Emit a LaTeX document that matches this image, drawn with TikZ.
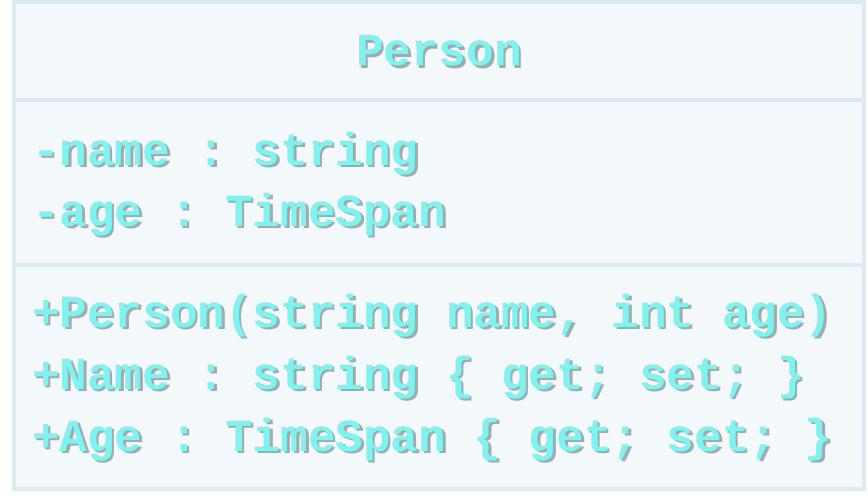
\documentclass[tikz,border=0pt]{standalone}
\usepackage{fontspec}
\setmonofont{Liberation Mono}
\usetikzlibrary{positioning}
\definecolor{umlcyan}{HTML}{80F2EF}
\definecolor{umlshade}{HTML}{A2AAAC}
\definecolor{umlborder}{HTML}{DAEBF1}
\definecolor{umlfill}{HTML}{F3F8FB}
% text with a soft drop shadow
\newcommand{\shadowed}[1]{%
  \rlap{\kern2.5pt\raisebox{-2.5pt}{\textcolor{umlshade}{#1}}}#1}
\tikzset{
  classbox/.style={
    draw=umlborder,
    fill=umlfill,
    line width=4pt
  },
  divider/.style={
    draw=umlborder,
    line width=4pt
  },
  umltext/.style={
    anchor=base west,
    inner sep=0pt,
    text=umlcyan,
    font=\ttfamily\bfseries\fontsize{46}{55}\selectfont
  }
}
\begin{document}
\begin{tikzpicture}[x=1pt,y=-1pt]
    \useasboundingbox (0,0) rectangle (868,503);
    \coordinate (nw) at (14,2);
    \coordinate (se) at (864,489);
    \draw[classbox] (nw) rectangle (se);
    % compartments
    \coordinate (d1w) at (14,100);
    \coordinate (d1e) at (864,100);
    \coordinate (d2w) at (14,265);
    \coordinate (d2e) at (864,265);
    \draw[divider] (d1w) -- (d1e);
    \draw[divider] (d2w) -- (d2e);
    % class name
    \node[umltext, anchor=base] (title) at (439,66) {\shadowed{Person}};
    % members
    \foreach \y/\txt [count=\i] in {165/{-name : string},
        226/{-age : TimeSpan},
        327/{+Person(string name, int age)},
        389/{+Name : string \{ get; set; \}},
        451/{+Age : TimeSpan \{ get; set; \}}} {
        \node[umltext] (line\i) at (32,\y) {\shadowed{\txt}};
    }
\end{tikzpicture}
\end{document}
